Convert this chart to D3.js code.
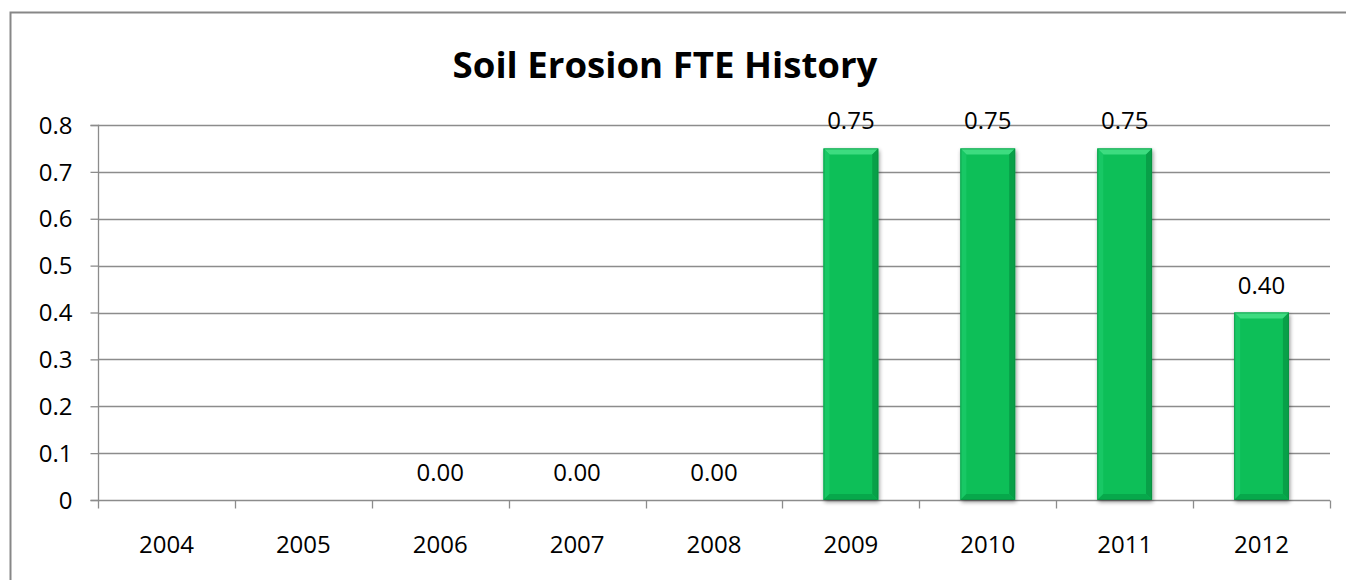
<!DOCTYPE html>
<html><head><meta charset="utf-8">
<script src="https://cdn.jsdelivr.net/npm/d3@7"></script>
<style>body{margin:0;background:#fff}svg{display:block}text{font-family:"Open Sans",sans-serif}</style>
</head><body>
<svg id="c" width="1346" height="580"></svg>
<script>
const title = "Soil Erosion FTE History";
const categories = ["2004","2005","2006","2007","2008","2009","2010","2011","2012"];
const values = [null,null,0,0,0,0.75,0.75,0.75,0.40];
const yTicks = [0,0.1,0.2,0.3,0.4,0.5,0.6,0.7,0.8];

const FONT = '"Open Sans",sans-serif';
const FS = 24;
const svg = d3.select("#c");
const M = {l:98, r:1330, t:125, b:500};
const x = d3.scaleBand().domain(categories).range([M.l,M.r]).paddingInner(0.6).paddingOuter(0.3);
const xb = d3.scaleBand().domain(categories).range([M.l,M.r]);
const y = d3.scaleLinear().domain([0,0.8]).range([M.b,M.t]);

// outer border
svg.append("path").attr("d","M10.5,580 L10.5,12.5 L1346,12.5").attr("fill","none").attr("stroke","#878787").attr("stroke-width",2);

const tt = svg.append("text").attr("x",665).attr("y",78).attr("text-anchor","middle")
  .attr("font-size",37).attr("font-weight","bold").attr("font-family",'Lato,"Open Sans",sans-serif').text(title);
// fit title to reference width
const tw = tt.node().getComputedTextLength();
if (tw > 0) tt.attr("font-size", 37 * 425 / tw);

// gridlines
svg.append("g").selectAll("line").data(yTicks.filter(d=>d>0)).join("line")
  .attr("x1",M.l).attr("x2",M.r).attr("y1",d=>Math.round(y(d))+0.5).attr("y2",d=>Math.round(y(d))+0.5)
  .attr("stroke","#8c8c8c").attr("stroke-width",1.3);

// y axis
const ya = svg.append("g").attr("transform",`translate(${M.l+0.5},0)`)
  .call(d3.axisLeft(y).tickValues(yTicks).tickSize(8).tickPadding(18).tickFormat(d=>d===0?"0":d3.format(".1f")(d)));
ya.select(".domain").attr("stroke","#8c8c8c").attr("stroke-width",1.3).attr("d",`M-8,${M.t+0.5}H0V${M.b+0.5}H-8`);
ya.selectAll(".tick line").attr("stroke","#8c8c8c").attr("stroke-width",1.3);
ya.selectAll(".tick text").attr("font-size",FS).attr("fill","#000").attr("font-family",FONT).attr("dy","0.34em");

// x axis
const xa = svg.append("g").attr("transform",`translate(0,${M.b+0.5})`);
xa.append("line").attr("x1",M.l).attr("x2",M.r).attr("stroke","#8c8c8c").attr("stroke-width",1.3);
xa.selectAll("line.t").data(d3.range(categories.length+1)).join("line").attr("class","t")
  .attr("x1",i=>Math.round(M.l+i*xb.step())+0.5).attr("x2",i=>Math.round(M.l+i*xb.step())+0.5)
  .attr("y1",0).attr("y2",8).attr("stroke","#8c8c8c").attr("stroke-width",1.3);
xa.selectAll("text").data(categories).join("text")
  .attr("x",d=>xb(d)+xb.bandwidth()/2).attr("y",52).attr("text-anchor","middle").attr("font-size",FS).text(d=>d);

// defs
const defs = svg.append("defs");
const f = defs.append("filter").attr("id","sh").attr("x","-20%").attr("y","-20%").attr("width","150%").attr("height","150%");
f.append("feGaussianBlur").attr("in","SourceAlpha").attr("stdDeviation",2);
f.append("feOffset").attr("dx",1).attr("dy",2).attr("result","b");
f.append("feComponentTransfer").append("feFuncA").attr("type","linear").attr("slope",0.45);
const mg = f.append("feMerge"); mg.append("feMergeNode"); mg.append("feMergeNode").attr("in","SourceGraphic");

// bars
const bars = svg.append("g").selectAll("g").data(categories.map((c,i)=>({c,v:values[i]})).filter(d=>d.v>0)).join("g");
bars.each(function(d){
  const g = d3.select(this);
  const x0 = x(d.c), w = x.bandwidth(), y0 = y(d.v), y1 = y(0), bv = 6;
  g.append("rect").attr("x",x0).attr("y",y0).attr("width",w).attr("height",y1-y0).attr("fill","#0bbf58").attr("filter","url(#sh)");
  g.append("polygon").attr("points",`${x0},${y0} ${x0+w},${y0} ${x0+w-bv},${y0+bv} ${x0+bv},${y0+bv}`).attr("fill","#3ddc80");
  g.append("polygon").attr("points",`${x0},${y0} ${x0+bv},${y0+bv} ${x0+bv},${y1-bv} ${x0},${y1}`).attr("fill","#18c865");
  g.append("polygon").attr("points",`${x0+w},${y0} ${x0+w-bv},${y0+bv} ${x0+w-bv},${y1-bv} ${x0+w},${y1}`).attr("fill","#08a048");
  g.append("polygon").attr("points",`${x0},${y1} ${x0+bv},${y1-bv} ${x0+w-bv},${y1-bv} ${x0+w},${y1}`).attr("fill","#07a84b");
  g.append("rect").attr("x",x0+0.5).attr("y",y0+0.5).attr("width",w-1).attr("height",y1-y0-1).attr("fill","none").attr("stroke","#0a8a40").attr("stroke-width",1).attr("stroke-opacity",0.6);
});

// labels
svg.append("g").selectAll("text").data(categories.map((c,i)=>({c,v:values[i]})).filter(d=>d.v!==null)).join("text")
  .attr("x",d=>x(d.c)+x.bandwidth()/2).attr("y",d=>y(d.v)-19).attr("text-anchor","middle").attr("font-size",FS)
  .text(d=>d3.format(".2f")(d.v));
</script>
</body></html>
